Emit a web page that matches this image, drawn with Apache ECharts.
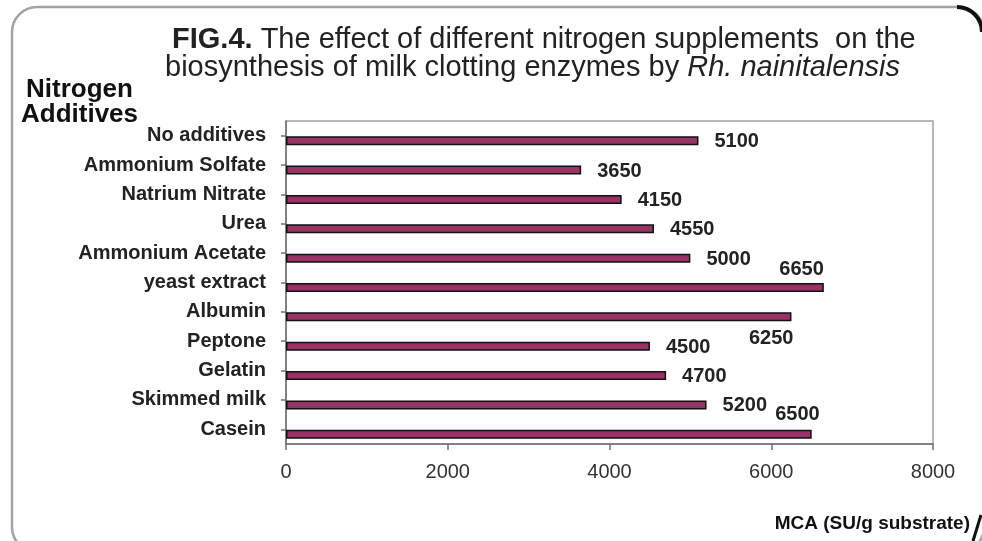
<!DOCTYPE html>
<html>
<head>
<meta charset="utf-8">
<script src="https://cdn.jsdelivr.net/npm/echarts@6/dist/echarts.min.js"></script>
<style>
html,body{margin:0;padding:0;background:#fff;}
#chart{width:982px;height:541px;}
</style>
</head>
<body>
<div id="chart"></div>
<script>
const categories = ['No additives','Ammonium Solfate','Natrium Nitrate','Urea','Ammonium Acetate','yeast extract','Albumin','Peptone','Gelatin','Skimmed milk','Casein'];
const values = [5100,3650,4150,4550,5000,6650,6250,4500,4700,5200,6500];
const xTicks = [0,2000,4000,6000,8000];

const FONT = '"Liberation Sans", Arial, sans-serif';
const specialLabels = {5:[0,-18], 6:[2,22], 10:[8,-20]};

const barData = values.map((v,i)=>{
  const sp = specialLabels[i];
  const item = {value:v};
  if (sp) {
    item.label = {position:['100%','50%'], align:'right', verticalAlign:'middle', offset:sp};
  }
  return item;
});

const chart = echarts.init(document.getElementById('chart'), null, {renderer:'canvas'});
chart.setOption({
  animation:false,
  backgroundColor:'#fff',
  grid:[
    {left:286, right:49, top:121, bottom:97, show:true, borderColor:'#a0a0a0', borderWidth:1.5, backgroundColor:'transparent'},
    {left:286, right:49, top:126, bottom:92}
  ],
  xAxis:[
    {gridIndex:0, type:'value', min:xTicks[0], max:xTicks[xTicks.length-1], interval:xTicks[1]-xTicks[0],
     axisLine:{show:true, lineStyle:{color:'#707070', width:1.5}},
     axisTick:{show:true, length:6, lineStyle:{color:'#707070', width:1.5}},
     splitLine:{show:false},
     axisLabel:{margin:18, fontSize:20, color:'#333', fontFamily:FONT, formatter:(v)=>String(v)}},
    {gridIndex:1, type:'value', min:xTicks[0], max:xTicks[xTicks.length-1], show:false, splitLine:{show:false}}
  ],
  yAxis:[
    {gridIndex:0, type:'category', data:categories, inverse:true,
     axisLine:{show:true, lineStyle:{color:'#707070', width:1.5}},
     axisTick:{show:true, alignWithLabel:true, length:5, lineStyle:{color:'#707070', width:1.5}},
     axisLabel:{margin:20, fontSize:20, fontWeight:'bold', color:'#222', fontFamily:FONT}},
    {gridIndex:1, type:'category', data:categories, inverse:true, show:false}
  ],
  series:[{
    type:'bar', xAxisIndex:1, yAxisIndex:1, data:barData, barWidth:9,
    itemStyle:{color:'#993366', borderColor:'#111', borderWidth:1.5},
    label:{show:true, position:['100%','50%'], align:'left', verticalAlign:'middle', offset:[16,1],
      fontSize:20, fontWeight:'bold', color:'#222', fontFamily:FONT}
  }],
  graphic:[
    {type:'rect', shape:{x:12, y:7, width:972, height:545, r:25}, style:{fill:'none', stroke:'#a3a3a3', lineWidth:2.5}, z:-1},
    {type:'arc', shape:{cx:957, cy:32, r:25, startAngle:-Math.PI/2, endAngle:0}, style:{fill:'none', stroke:'#111', lineWidth:4}},
    {type:'line', shape:{x1:981, y1:515, x2:973, y2:541}, style:{stroke:'#111', lineWidth:3}},
    {type:'text', left:172, top:25, style:{
      text:'{b|FIG.4.} The effect of different nitrogen supplements  on the',
      font:'29px '+FONT, fill:'#222',
      rich:{b:{fontWeight:'bold', fontSize:29, fontFamily:FONT, fill:'#222'}}
    }},
    {type:'text', left:165, top:53, style:{
      text:'biosynthesis of milk clotting enzymes by {i|Rh. nainitalensis}',
      font:'29px '+FONT, fill:'#222',
      rich:{i:{fontStyle:'italic', fontSize:29, fontFamily:FONT, fill:'#222'}}
    }},
    {type:'text', left:26, top:77, style:{text:'Nitrogen', font:'bold 26px '+FONT, fill:'#111'}},
    {type:'text', left:21, top:102, style:{text:'Additives', font:'bold 26px '+FONT, fill:'#111'}},
    {type:'text', right:12, top:514, style:{text:'MCA (SU/g substrate)', font:'bold 19px '+FONT, fill:'#111'}}
  ]
});
</script>
</body>
</html>
